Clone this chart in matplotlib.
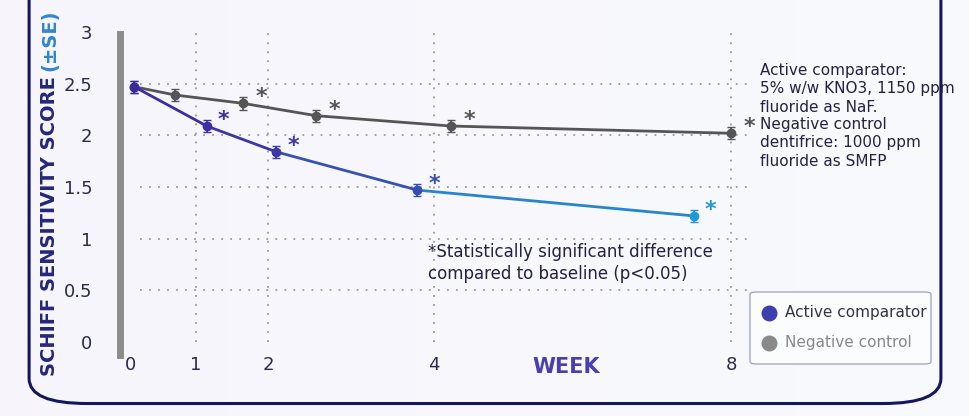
import numpy as np
import matplotlib
matplotlib.use("Agg")
import matplotlib.pyplot as plt
from matplotlib.patches import FancyBboxPatch
from matplotlib.lines import Line2D

# data
tick_weeks = [0, 1, 2, 4, 8]
tick_labels = ["0", "1", "2", "4", "8"]
active_x = [0.05, 1.15, 2.1, 3.8, 7.5]
active_y = [2.47, 2.09, 1.84, 1.47, 1.22]
active_err = [0.06, 0.06, 0.06, 0.06, 0.06]
active_sig = [False, True, True, True, True]
neg_x = [0.05, 0.68, 1.65, 2.58, 4.23, 8.0]
neg_y = [2.47, 2.39, 2.31, 2.19, 2.09, 2.02]
neg_err = [0.06, 0.06, 0.06, 0.06, 0.06, 0.06]
neg_sig = [False, False, True, True, True, True]

tick_pos = [131, 196, 268, 434, 731]  # display layout of non-linear week axis
def fwd2(x):
    x = np.asarray(x, float)
    out = np.interp(x, tick_weeks, tick_pos)
    out = np.where(x < 0, tick_pos[0] + x * 65, out)
    out = np.where(x > 8, tick_pos[-1] + (x - 8) * 74, out)
    return out
def inv2(p):
    p = np.asarray(p, float)
    out = np.interp(p, tick_pos, tick_weeks)
    out = np.where(p < tick_pos[0], (p - tick_pos[0]) / 65, out)
    out = np.where(p > tick_pos[-1], 8 + (p - tick_pos[-1]) / 74, out)
    return out

fig = plt.figure(figsize=(9.7, 4.16), dpi=100)
fig.patch.set_facecolor("white")
bg = fig.add_axes([0, 0, 1, 1], zorder=-5)
bg.axis("off")
grad = np.linspace(0, 1, 256)[None, :]
bg.imshow(np.dstack([np.full((1, 256), 0.97), 0.96 + 0.02 * grad, np.full((1, 256), 0.99)]),
          extent=[0, 1, 0, 1], aspect="auto", transform=bg.transAxes)
bg.add_patch(FancyBboxPatch((0.03, 0.03), 0.94, 1.1, boxstyle="round,pad=0,rounding_size=0.06",
                            transform=bg.transAxes, fill=False, edgecolor="#14175e", lw=2.2))
bg.set_xlim(0, 1); bg.set_ylim(0, 1)

ax = fig.add_axes([120/970, 74/416, 630/970, 310/416])
ax.patch.set_alpha(0)
ax.set_xscale("function", functions=(fwd2, inv2))
ax.set_xlim(inv2(120), inv2(750))
ax.set_ylim(0, 3)
for s in ax.spines.values():
    s.set_visible(False)
ax.set_xticks(tick_weeks)
ax.set_xticklabels(tick_labels)
ax.set_yticks([0, 0.5, 1, 1.5, 2, 2.5, 3])
ax.set_yticklabels(["0", "0.5", "1", "1.5", "2", "2.5", "3"])
ax.tick_params(length=0, labelsize=13, colors="#2a2a4a")
ax.tick_params(axis="y", pad=20)
ax.tick_params(axis="x", pad=10)
for y in [0.5, 1, 1.5, 2, 2.5]:
    ax.plot([inv2(140), inv2(750)], [y, y], ls=(0, (1, 4)), color="#999999", lw=1.3, zorder=1)
for w in [1, 2, 4, 8]:
    ax.axvline(w, ls=(0, (1, 4)), color="#999999", lw=1.3, zorder=1)

fig.add_artist(Line2D([120/970, 120/970], [61/416, 382/416], color="#8c8c8c", lw=5))

ncol = "#555555"
ax.plot(neg_x, neg_y, color=ncol, lw=2, zorder=3)
ax.errorbar(neg_x, neg_y, yerr=neg_err, fmt="o", color=ncol, ms=6, capsize=3, lw=1.3, zorder=4)
for x, y, s in zip(neg_x, neg_y, neg_sig):
    if s:
        ax.annotate("*", (x, y), xytext=(9, 0), textcoords="offset points", color=ncol,
                    fontsize=16, fontweight="bold")

cmap = matplotlib.colors.LinearSegmentedColormap.from_list("a", ["#3a2a9e", "#3c3aa6", "#1e9ad8"])
cols = [cmap(t) for t in [0.0, 0.2, 0.4, 0.6, 1.0]]
for i in range(len(active_x) - 1):
    ax.plot(active_x[i:i+2], active_y[i:i+2], color=cmap((i + 0.5) / 4 if i < 3 else 0.9), lw=2, zorder=3)
for x, y, e, c, s in zip(active_x, active_y, active_err, cols, active_sig):
    ax.errorbar([x], [y], yerr=[e], fmt="o", color=c, ms=6, capsize=3, lw=1.3, zorder=5)
    if s:
        ax.annotate("*", (x, y), xytext=(8, 0), textcoords="offset points", color=c,
                    fontsize=16, fontweight="bold")

# y label in two colours
t1 = fig.text(50/970, 40/416, "SCHIFF SENSITIVITY SCORE", rotation=90, ha="center", va="bottom",
              fontsize=14, fontweight="bold", color="#23267a")
fig.canvas.draw()
bb = t1.get_window_extent().transformed(fig.transFigure.inverted())
fig.text(50/970, bb.y1 + 0.012, "(±SE)", rotation=90, ha="center", va="bottom",
         fontsize=14, fontweight="bold", color="#2f86d0")
fig.text(566/970, 49/416, "WEEK", ha="center", va="center", fontsize=15, fontweight="bold", color="#4a3fb0")
fig.text(760/970, 300/416, "Active comparator:\n5% w/w KNO3, 1150 ppm\nfluoride as NaF.\nNegative control\ndentifrice: 1000 ppm\nfluoride as SMFP",
         ha="left", va="center", fontsize=11, color="#222244", linespacing=1.25)
fig.text(428/970, 153/416, "*Statistically significant difference\ncompared to baseline (p<0.05)",
         ha="left", va="center", fontsize=12, color="#222244", linespacing=1.25)

bg.add_patch(FancyBboxPatch((750/970, 52/416), 181/970, 72/416, boxstyle="round,pad=0,rounding_size=0.006",
                            transform=bg.transAxes, facecolor="white", alpha=0.6, edgecolor="#6a6fb0", lw=1))
bg.scatter([769/970], [103/416], s=110, color="#3b3fb0", transform=bg.transAxes, zorder=5)
bg.scatter([769/970], [73/416], s=110, color="#8a8a8a", transform=bg.transAxes, zorder=5)
fig.text(785/970, 103/416, "Active comparator", va="center", fontsize=11, color="#333344")
fig.text(785/970, 73/416, "Negative control", va="center", fontsize=11, color="#888888")

fig.savefig("out.png", dpi=100)
